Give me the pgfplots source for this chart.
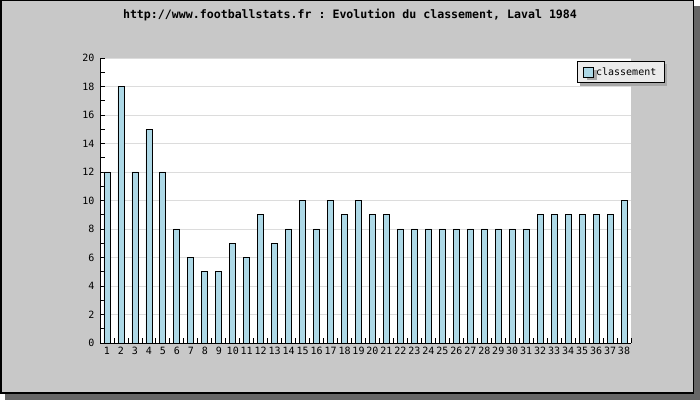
\documentclass[border=0pt]{standalone}
\usepackage{fontspec}
\setmainfont{DejaVu Sans Mono}
\usepackage{pgfplots}
\pgfplotsset{compat=1.18}
\usetikzlibrary{shadows}
\definecolor{bg}{HTML}{C8C8C8}
\definecolor{shadowc}{HTML}{666666}
\definecolor{barc}{HTML}{ADD8E6}
\definecolor{gridc}{HTML}{DCDCDC}
\definecolor{legbg}{HTML}{EBEBEB}
\definecolor{legshadow}{HTML}{A8A8A8}
\pgfplotstableread{
x y
1 12
2 18
3 12
4 15
5 12
6 8
7 6
8 5
9 5
10 7
11 6
12 9
13 7
14 8
15 10
16 8
17 10
18 9
19 10
20 9
21 9
22 8
23 8
24 8
25 8
26 8
27 8
28 8
29 8
30 8
31 8
32 9
33 9
34 9
35 9
36 9
37 9
38 10
}\datatable
\begin{document}
\frenchspacing
\begin{tikzpicture}
\useasboundingbox (0bp,0bp) rectangle (700bp,400bp);
\fill[shadowc] (5bp,0bp) rectangle (700bp,394bp);
\fill[bg] (0bp,6bp) rectangle (694bp,400bp);
\draw[black, line width=1.5bp] (0.75bp,6.75bp) rectangle (693.25bp,399.25bp);
\node[font=\bfseries\fontsize{11.6bp}{14bp}\selectfont, anchor=base] at (350bp,381bp) {http://www.footballstats.fr : Evolution du classement, Laval 1984};
\begin{axis}[
  at={(100bp,57bp)}, anchor=south west,
  width=531bp, height=285bp, scale only axis,
  xmin=0.5, xmax=38.5, ymin=0, ymax=20,
  axis x line*=bottom, axis y line*=left,
  axis line style={black, line width=0.8bp, -},
  axis background/.style={fill=white},
  tick align=inside,
  xtick={1,...,38},
  minor xtick={0.5,1.5,...,38.5},
  major x tick style={draw=none},
  ytick={0,2,...,20},
  minor ytick={1,3,...,19},
  major tick length=5bp, minor tick length=5bp,
  tick style={black, line width=0.8bp},
  ymajorgrids,
  major grid style={gridc, line width=0.8bp},
  /pgf/number format/assume math mode=true,
  ticklabel style={font=\fontsize{10bp}{12bp}\selectfont},
  xticklabel style={inner xsep=0pt, yshift=-1bp},
  yticklabel style={xshift=-2bp},
  legend style={
    at={(1.0635,0.9895)}, anchor=north east,
    draw=black, line width=0.8bp, fill=legbg,
    general shadow={fill=legshadow, draw=none, shadow xshift=3bp, shadow yshift=-3bp},
    font=\fontsize{10bp}{12bp}\selectfont,
    inner xsep=6bp, inner ysep=4bp,
    legend cell align=left,
    /tikz/every even column/.append style={column sep=1bp},
  },
  legend image code/.code={\draw[black, line width=0.8bp, fill=barc] (0bp,-5bp) rectangle (10bp,5bp);},
]
\addplot[ybar, bar width=6bp, fill=barc, draw=black, line width=0.8bp] table[x=x,y=y] {\datatable};
\addlegendentry{classement}
\end{axis}
\end{tikzpicture}
\end{document}
